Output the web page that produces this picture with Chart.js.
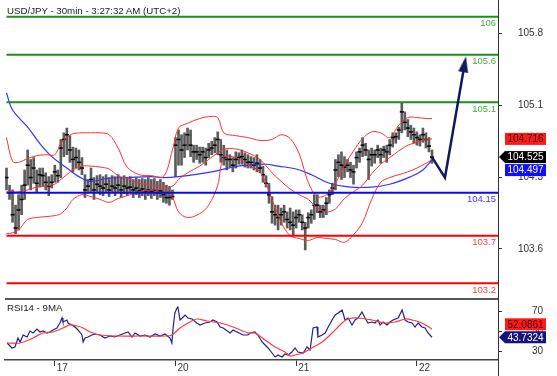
<!DOCTYPE html>
<html>
<head>
<meta charset="utf-8">
<title>USD/JPY 30min</title>
<script src="https://cdn.jsdelivr.net/npm/chart.js@4.4.1/dist/chart.umd.min.js"></script>
<style>
  html, body { margin: 0; padding: 0; background: #fff; }
  #wrap { position: relative; width: 557px; height: 376px; overflow: hidden; font-family: Arial, "Liberation Sans", sans-serif; }
  #priceCanvas { position: absolute; left: 0; top: 0; }
  #rsiCanvas { position: absolute; left: 0; top: 298px; }
  .caption { position: absolute; left: 7px; font-size: 9.7px; line-height: 11px; color: #222; white-space: nowrap; }
</style>
</head>
<body>
<div id="wrap">
  <canvas id="priceCanvas" width="557" height="298"></canvas>
  <canvas id="rsiCanvas" width="557" height="78"></canvas>
  <div class="caption" style="top:5px">USD/JPY - 30min - 3:27:32 AM (UTC+2)</div>
  <div class="caption" style="top:302px">RSI14 - 9MA</div>
</div>
<script>
// 30min bars, one entry per bar (bar number = array index)
const highs = [104.41,104.23,104.18,104.02,104.13,104.23,104.39,104.60,104.50,104.52,
  104.39,104.41,104.41,104.36,104.32,104.34,104.44,104.39,104.71,104.78,
  104.83,104.75,104.63,104.62,104.60,104.52,104.34,104.29,104.41,104.31,
  104.33,104.34,104.32,104.34,104.31,104.33,104.32,104.34,104.31,104.33,
  104.31,104.32,104.29,104.31,104.29,104.30,104.29,104.31,104.29,104.30,
  104.27,104.29,104.26,104.23,104.21,104.18,104.73,104.81,104.76,104.78,
  104.83,104.81,104.65,104.65,104.63,104.63,104.62,104.67,104.69,104.73,
  104.79,104.71,104.65,104.60,104.55,104.52,104.58,104.57,104.60,104.57,
  104.55,104.53,104.52,104.55,104.50,104.43,104.33,104.25,104.11,104.02,
  104.02,103.99,104.02,103.95,103.99,103.95,103.97,103.97,103.92,103.84,
  103.94,103.97,104.13,104.13,104.02,104.02,104.10,104.18,104.25,104.50,
  104.55,104.58,104.53,104.50,104.47,104.44,104.58,104.62,104.73,104.67,
  104.60,104.62,104.60,104.65,104.62,104.64,104.65,104.71,104.78,104.78,
  104.84,105.09,105.00,104.92,104.86,104.83,104.79,104.76,104.83,104.78,
  104.73,104.60];
const lows = [104.18,104.08,103.84,103.72,103.76,103.92,104.08,104.23,104.18,104.25,
  104.16,104.21,104.22,104.18,104.12,104.20,104.26,104.26,104.31,104.53,
  104.55,104.47,104.37,104.41,104.39,104.34,104.10,104.15,104.16,104.08,
  104.16,104.13,104.12,104.16,104.11,104.15,104.12,104.16,104.10,104.14,
  104.12,104.15,104.10,104.13,104.10,104.12,104.08,104.12,104.09,104.12,
  104.08,104.10,104.05,104.04,104.02,104.08,104.32,104.44,104.44,104.52,
  104.60,104.53,104.47,104.50,104.46,104.47,104.44,104.52,104.55,104.57,
  104.55,104.47,104.44,104.39,104.42,104.37,104.41,104.45,104.45,104.42,
  104.41,104.41,104.39,104.37,104.36,104.26,104.21,104.04,103.83,103.81,
  103.76,103.81,103.84,103.78,103.76,103.70,103.78,103.84,103.76,103.55,
  103.78,103.83,103.87,103.94,103.89,103.89,103.92,104.04,104.13,104.18,
  104.32,104.29,104.31,104.37,104.31,104.24,104.41,104.47,104.53,104.54,
  104.29,104.43,104.46,104.52,104.46,104.52,104.47,104.55,104.63,104.67,
  104.71,104.78,104.81,104.74,104.71,104.67,104.65,104.64,104.68,104.62,
  104.58,104.46];
const closes = [104.31,104.15,103.92,103.78,103.97,104.08,104.23,104.44,104.31,104.41,
  104.25,104.34,104.33,104.26,104.22,104.26,104.37,104.33,104.62,104.71,
  104.76,104.60,104.50,104.52,104.47,104.41,104.18,104.22,104.29,104.18,
  104.24,104.22,104.20,104.24,104.18,104.22,104.20,104.23,104.18,104.22,
  104.20,104.21,104.18,104.20,104.17,104.19,104.16,104.18,104.16,104.18,
  104.15,104.17,104.13,104.10,104.10,104.11,104.65,104.71,104.60,104.65,
  104.76,104.65,104.58,104.58,104.55,104.58,104.52,104.60,104.62,104.65,
  104.71,104.55,104.52,104.50,104.50,104.44,104.50,104.52,104.53,104.50,
  104.47,104.47,104.44,104.46,104.41,104.34,104.25,104.13,103.95,103.92,
  103.89,103.92,103.95,103.87,103.84,103.81,103.89,103.92,103.84,103.78,
  103.89,103.92,104.02,104.02,103.95,103.97,104.04,104.13,104.20,104.39,
  104.47,104.44,104.42,104.44,104.39,104.37,104.52,104.58,104.65,104.60,
  104.50,104.55,104.55,104.60,104.55,104.60,104.58,104.65,104.73,104.74,
  104.81,105.00,104.89,104.83,104.79,104.76,104.73,104.71,104.76,104.71,
  104.64,104.525];

// Bollinger bands (20), read at these bar numbers
const bandX = [0,2,4,7,10,13,16,18,20,22,25,28,31,34,37,40,44,48,52,55,57,60,64,67,70,
  72,76,80,84,88,91,94,97,100,103,106,109,112,115,118,121,124,127,130,133,136,139,141];
const bandUpper = [104.73,104.48,104.47,104.51,104.54,104.55,104.55,104.67,104.73,104.77,
  104.78,104.78,104.78,104.76,104.62,104.42,104.34,104.33,104.32,104.60,
  104.83,104.88,104.93,104.95,104.94,104.78,104.75,104.73,104.70,104.71,
  104.76,104.72,104.56,104.26,104.11,104.13,104.25,104.44,104.59,104.72,
  104.79,104.78,104.73,104.86,104.94,104.94,104.93,104.93];
const bandMiddle = [104.16,104.16,104.16,104.18,104.21,104.22,104.24,104.29,104.34,104.39,
  104.43,104.43,104.42,104.40,104.33,104.30,104.25,104.23,104.22,104.22,
  104.29,104.36,104.43,104.50,104.57,104.61,104.61,104.57,104.50,104.36,
  104.27,104.19,104.13,104.08,103.99,103.95,103.98,104.09,104.16,104.23,
  104.35,104.45,104.52,104.59,104.65,104.68,104.71,104.716];
const bandLower = [103.72,103.73,103.76,103.87,103.89,103.90,103.91,103.93,103.99,104.08,
  104.13,104.11,104.08,104.05,104.09,104.12,104.16,104.18,104.18,104.10,
  103.95,103.89,103.93,104.02,104.23,104.52,104.52,104.44,104.37,104.08,
  103.84,103.70,103.67,103.65,103.68,103.67,103.66,103.63,103.71,103.84,
  104.08,104.26,104.31,104.34,104.37,104.41,104.46,104.50];

// slow moving average (blue)
const maX = [0,2,7,11,15,20,24,28,33,40,48,52,57,68,75,80,86,90,96,101,107,114,121,127,134,138,141];
const maValues = [105.20,105.02,104.84,104.67,104.53,104.41,104.32,104.27,104.30,104.31,
  104.32,104.31,104.32,104.37,104.42,104.44,104.45,104.43,104.40,104.34,
  104.25,104.21,104.21,104.24,104.32,104.39,104.497];

// projected path (arrow)
const projX = [141, 145.3, 151.8];
const projY = [104.525, 104.31, 105.50];

// support / resistance levels
const levelValues = [106, 105.6, 105.1, 104.15, 103.7, 103.2];
const levelLabels = ['106', '105.6', '105.1', '104.15', '103.7', '103.2'];
const levelColors = ['#1b8f1b', '#1b8f1b', '#1b8f1b', '#0a0aee', '#ff0000', '#ff0000'];
const levelTextColors = ['#45ad45', '#45ad45', '#45ad45', '#3c3cff', '#ff3c3c', '#ff3c3c'];

// RSI14 and its 9MA
const rsiX = [0.2,1.8,2.8,3.8,4.5,5.5,6.8,7.8,8.8,10.1,
  11.1,12.1,13.4,14.4,15.4,16.7,17.7,18.4,18.7,20,
  20.4,21.7,22.7,23.7,25,25.4,26,27,28.3,29.3,
  31,32.6,34.3,35.9,37.6,39.3,40.3,41.6,42.6,44.2,
  45.9,47.6,49.2,50.9,52.5,54.2,54.8,55.2,55.8,56.5,
  56.8,57.5,58.2,59.2,60.1,61.5,63.1,64.1,65.8,67.4,
  68.4,69.8,70.8,71.8,74.1,75.1,76.4,78.4,80,80.7,
  82.3,83.3,84.7,85.7,86.7,88,89,90,91.3,92.3,
  93.3,94.6,95.6,96.6,98.3,99.6,100.6,101.6,102.9,103.2,
  104.6,105.6,106.6,107.9,108.9,109.9,111.2,112.2,113.2,114.5,
  115.5,116.5,117.8,118.8,119.8,121.1,122.1,123.1,123.8,124.8,
  126.1,127.1,128.1,129.8,131.1,132.1,133.1,134.4,135.4,136.4,
  137.7,138.7,139.7,141];
const rsiValues = [38,33,34,43,39,46,44,50,48,52,
  49,50,48,49,51,53,58,63,59,61,
  58,56,54,51,46,39,43,44,46,47,
  46,43,45,44,46,48,49,44,48,45,
  46,44,47,45,47,43,38,53,68,73,
  74,61,63,66,63,62,58,56,58,59,
  61,59,54,53,48,51,49,46,46,48,
  49,46,39,36,33,28,24,26,24,27,
  26,29,33,29,28,34,31,53,54,44,
  46,48,54,61,66,68,71,61,63,56,
  61,63,69,63,58,59,58,61,56,59,
  56,59,61,63,71,61,59,58,54,58,
  54,53,48,43.7324];
const rsiMaX = [0.2,4.5,8.8,12.1,15.4,18.7,21,23.4,25.4,27.7,
  31,36.6,44.2,53.2,54.8,57.5,60.8,63.1,66.4,70.8,
  75.1,80,82.3,85.7,89,92.3,94,95.6,98.3,101.2,
  104.6,107.9,111.2,113.2,116.5,121.1,125.4,128.8,132.1,134.4,
  137.7,141];
const rsiMaValues = [38,38,43,48,49,53,56,55,53,49,
  46,45,45,45,46,53,59,62,60,58,
  54,48,48,41,34,29,25,26,28,33,
  39,48,58,62,63,61,58,59,62,61,
  58,52.0861];

// axis ticks
const priceTicks = [105.825, 105.07, 104.315, 103.56];
const rsiTicks = [30, 50, 70];
const dayTickBars = [16, 56, 96, 136];
const dayLabels = ['17', '20', '21', '22'];

const X_MIN = -0.5;
const X_MAX = 162.88;
const FONT = 'Arial, "Liberation Sans", sans-serif';

Chart.defaults.font.family = FONT;
Chart.defaults.animation = false;

function toPoints(xs, ys) {
    return xs.map((x, i) => ({ x: x, y: ys[i] }));
}

// keep the plot area fixed: no extra room for the edge labels
function fixSize(width, height) {
    return function(s) {
        if (width !== null) s.width = width;
        if (height !== null) s.height = height;
        s.paddingTop = 0;
        s.paddingBottom = 0;
        s.paddingLeft = 0;
        s.paddingRight = 0;
    };
}

// arrow head used as the last point of the projection
const arrowHead = document.createElement('canvas');
arrowHead.width = 10;
arrowHead.height = 16;
(function() {
    const c = arrowHead.getContext('2d');
    c.fillStyle = '#101a5c';
    c.beginPath();
    c.moveTo(5, 0);
    c.lineTo(10, 16);
    c.lineTo(0, 16);
    c.closePath();
    c.fill();
})();

// labels on the right of the plot, pushed apart around the "current" one
function drawValueBoxes(chart, boxes) {
    const { ctx, chartArea, scales } = chart;
    const y = scales.y;
    const h = 12, gap = 1, w = 41;
    const left = chartArea.right + 7;
    const cur = boxes.find(b => b.current);
    const curY = y.getPixelForValue(cur.value);
    ctx.save();
    ctx.font = '10px ' + FONT;
    ctx.textAlign = 'center';
    ctx.textBaseline = 'middle';
    boxes.forEach(b => {
        let py = y.getPixelForValue(b.value);
        if (!b.current) {
            py = py <= curY ? Math.min(py, curY - h - gap) : Math.max(py, curY + h + gap);
        }
        ctx.fillStyle = b.bg;
        ctx.fillRect(left, py - h / 2, w, h);
        if (b.current) {
            ctx.beginPath();
            ctx.moveTo(chartArea.right + 1, py);
            ctx.lineTo(left, py - h / 2);
            ctx.lineTo(left, py + h / 2);
            ctx.closePath();
            ctx.fill();
        }
        ctx.fillStyle = b.fg;
        ctx.fillText(b.text, left + w / 2, py + 0.5);
    });
    ctx.restore();
}

const priceOverlay = {
    id: 'priceOverlay',
    afterDraw(chart) {
        const { ctx, chartArea, scales } = chart;
        ctx.save();
        ctx.font = '9.5px ' + FONT;
        ctx.textAlign = 'right';
        ctx.textBaseline = 'middle';
        levelValues.forEach((v, k) => {
            ctx.fillStyle = levelTextColors[k];
            ctx.fillText(levelLabels[k], chartArea.right - 2, scales.y.getPixelForValue(v) + 7);
        });
        ctx.restore();

        const lastMid = bandMiddle[bandMiddle.length - 1];
        const lastClose = closes[closes.length - 1];
        const lastMa = maValues[maValues.length - 1];
        drawValueBoxes(chart, [
            { value: lastMid, text: lastMid.toFixed(3), bg: '#ff1a1a', fg: '#3a0000' },
            { value: lastClose, text: lastClose.toFixed(3), bg: '#000000', fg: '#ffffff', current: true },
            { value: lastMa, text: lastMa.toFixed(3), bg: '#1010ff', fg: '#ffffff' }
        ]);
    }
};

const rsiOverlay = {
    id: 'rsiOverlay',
    afterDraw(chart) {
        const { ctx, chartArea } = chart;
        ctx.save();
        ctx.strokeStyle = '#555';
        ctx.lineWidth = 2;
        ctx.beginPath();
        ctx.moveTo(chartArea.left, chartArea.top + 1);
        ctx.lineTo(chartArea.right, chartArea.top + 1);
        ctx.stroke();
        ctx.lineWidth = 1;
        ctx.strokeStyle = '#333';
        ctx.beginPath();
        ctx.moveTo(chartArea.right + 0.5, chartArea.bottom);
        ctx.lineTo(chartArea.right + 0.5, chart.height);
        ctx.stroke();
        ctx.restore();

        const lastMa = rsiMaValues[rsiMaValues.length - 1];
        const lastRsi = rsiValues[rsiValues.length - 1];
        drawValueBoxes(chart, [
            { value: lastMa, text: lastMa.toFixed(4), bg: '#ff1a1a', fg: '#3a0000' },
            { value: lastRsi, text: lastRsi.toFixed(4), bg: '#14147e', fg: '#ffffff', current: true }
        ]);
    }
};

const lineBase = { type: 'line', pointRadius: 0, fill: false };

const priceDatasets = [
    Object.assign({}, lineBase, {
        data: toPoints(projX, projY),
        borderColor: '#101a5c',
        borderWidth: 2.5,
        pointRadius: c => c.dataIndex === projX.length - 1 ? 6 : 0,
        pointStyle: c => c.dataIndex === projX.length - 1 ? arrowHead : 'circle',
        pointRotation: 10,
        order: 0
    })
];
levelValues.forEach((v, k) => {
    priceDatasets.push(Object.assign({}, lineBase, {
        data: [{ x: 0, y: v }, { x: X_MAX, y: v }],
        borderColor: levelColors[k],
        borderWidth: 2,
        order: 1
    }));
});
priceDatasets.push(
    Object.assign({}, lineBase, { data: toPoints(bandX, bandUpper), borderColor: '#ff3030', borderWidth: 1, tension: 0.35, order: 2 }),
    Object.assign({}, lineBase, { data: toPoints(bandX, bandMiddle), borderColor: '#ff3030', borderWidth: 1, tension: 0.35, order: 2 }),
    Object.assign({}, lineBase, { data: toPoints(bandX, bandLower), borderColor: '#ff3030', borderWidth: 1, tension: 0.35, order: 2 }),
    Object.assign({}, lineBase, { data: toPoints(maX, maValues), borderColor: '#3434ff', borderWidth: 1.2, tension: 0.4, order: 2 }),
    Object.assign({}, lineBase, {
        data: closes.map((c, i) => ({ x: i, y: c })),
        showLine: false,
        pointRadius: 2,
        pointStyle: 'line',
        pointBorderColor: '#000',
        pointBorderWidth: 1.5,
        order: 3
    }),
    {
        type: 'bar',
        data: highs.map((h, i) => ({ x: i, y: [lows[i], h] })),
        backgroundColor: '#5c5c5c',
        barThickness: 2,
        order: 4
    }
);

new Chart(document.getElementById('priceCanvas'), {
    type: 'bar',
    data: { datasets: priceDatasets },
    options: {
        responsive: false,
        animation: false,
        events: [],
        layout: { autoPadding: false, padding: { left: 5, right: 14, top: 0, bottom: 0 } },
        plugins: { legend: { display: false }, tooltip: { enabled: false } },
        scales: {
            x: { type: 'linear', min: X_MIN, max: X_MAX, offset: false, display: false, grid: { offset: false } },
            y: {
                position: 'right',
                min: 103.045,
                max: 106.175,
                beginAtZero: false,
                afterFit: fixSize(45, null),
                afterBuildTicks: s => { s.ticks = priceTicks.map(v => ({ value: v })); },
                ticks: { callback: v => v.toFixed(1), font: { size: 10 }, color: '#333', crossAlign: 'far', padding: 4 },
                grid: { drawOnChartArea: false, tickLength: 4, color: '#333' },
                border: { color: '#333', width: 1 }
            }
        }
    },
    plugins: [priceOverlay]
});

new Chart(document.getElementById('rsiCanvas'), {
    type: 'line',
    data: {
        datasets: [
            Object.assign({}, lineBase, { data: toPoints(rsiMaX, rsiMaValues), borderColor: '#ff3a3a', borderWidth: 1.2, tension: 0.3 }),
            Object.assign({}, lineBase, { data: toPoints(rsiX, rsiValues), borderColor: '#22228f', borderWidth: 1.2, tension: 0 })
        ]
    },
    options: {
        responsive: false,
        animation: false,
        events: [],
        layout: { autoPadding: false, padding: { left: 5, right: 14, top: 0, bottom: 0 } },
        plugins: { legend: { display: false }, tooltip: { enabled: false } },
        scales: {
            x: {
                type: 'linear', min: X_MIN, max: X_MAX, offset: false,
                afterFit: fixSize(null, 16),
                afterBuildTicks: s => { s.ticks = dayTickBars.map(v => ({ value: v })); },
                ticks: {
                    callback: (v, i) => dayLabels[i],
                    align: 'start', labelOffset: 2, padding: -4,
                    autoSkip: false, maxRotation: 0,
                    font: { size: 10 }, color: '#333'
                },
                grid: { drawOnChartArea: false, tickLength: 6, color: '#333', offset: false },
                border: { color: '#444', width: 1.5 }
            },
            y: {
                position: 'right', min: 21, max: 83,
                afterFit: fixSize(45, null),
                afterBuildTicks: s => { s.ticks = rsiTicks.map(v => ({ value: v })); },
                ticks: { font: { size: 10 }, color: '#333', crossAlign: 'far', padding: 4 },
                grid: { drawOnChartArea: false, tickLength: 4, color: '#333' },
                border: { color: '#333', width: 1 }
            }
        }
    },
    plugins: [rsiOverlay]
});
</script>
</body>
</html>
